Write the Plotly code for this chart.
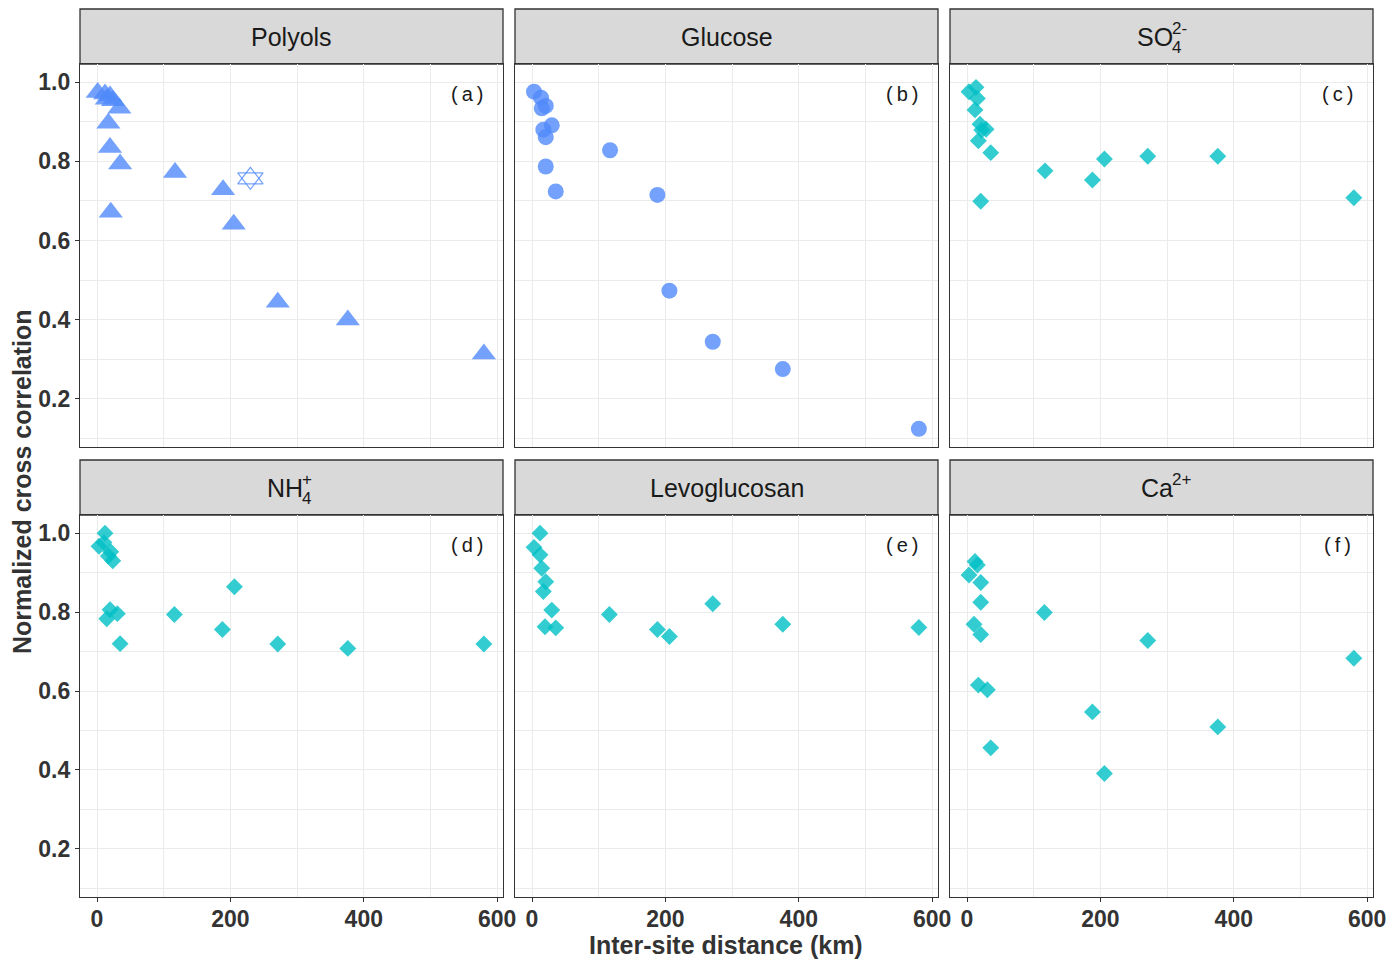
import plotly.graph_objects as go

# inter-site distance (km) and normalized cross correlation
polyols_x = [1, 12, 19.5, 14.6, 24, 33.5, 17, 19.5, 34.6, 117, 189, 20.6, 205, 271, 376, 580]
polyols_y = [0.974, 0.970, 0.965, 0.957, 0.953, 0.934, 0.896, 0.835, 0.793, 0.772, 0.728, 0.671, 0.641, 0.444, 0.399, 0.313]
polyols_star_x = [230]
polyols_star_y = [0.757]

glucose_x = [3, 13.5, 20.6, 14.6, 29.6, 17, 20.6, 117, 20.6, 35.6, 188, 206, 271, 376, 580]
glucose_y = [0.976, 0.961, 0.940, 0.934, 0.891, 0.880, 0.861, 0.828, 0.787, 0.724, 0.715, 0.473, 0.344, 0.275, 0.124]

so4_x = [3, 13.5, 15.5, 12, 19.5, 28.6, 22, 17, 35.6, 117, 188, 206, 271, 376, 580, 20.6]
so4_y = [0.976, 0.987, 0.959, 0.930, 0.894, 0.881, 0.879, 0.852, 0.822, 0.776, 0.753, 0.806, 0.813, 0.813, 0.708, 0.699]

nh4_x = [12, 3, 10.5, 20.6, 17, 23.6, 19.5, 30.5, 14.6, 34.6, 116, 188, 206, 271, 376, 580]
nh4_y = [1.0, 0.967, 0.976, 0.953, 0.942, 0.930, 0.806, 0.796, 0.783, 0.720, 0.794, 0.756, 0.864, 0.719, 0.708, 0.719]

levo_x = [12, 3, 12, 14.6, 20.6, 17, 29.6, 19.5, 35.6, 116, 188, 206, 271, 376, 580]
levo_y = [1.0, 0.964, 0.945, 0.911, 0.877, 0.852, 0.805, 0.763, 0.760, 0.794, 0.756, 0.738, 0.821, 0.769, 0.761]

ca_x = [12, 15.5, 3, 20.6, 20.6, 10.5, 20.6, 17, 30.5, 35.6, 116, 188, 206, 271, 376, 580]
ca_y = [0.928, 0.919, 0.894, 0.875, 0.825, 0.769, 0.743, 0.615, 0.603, 0.456, 0.799, 0.547, 0.391, 0.728, 0.509, 0.683]

x_ticks = [0, 200, 400, 600]
y_ticks = [0.2, 0.4, 0.6, 0.8, 1.0]
panel_tags = ["a", "b", "c", "d", "e", "f"]

BLUE = "rgba(80,137,250,0.8)"
TEAL = "rgba(0,191,196,0.8)"
FONT = "Arial, Liberation Sans, sans-serif"
# page body has an 8px margin; keep the figure inside the window so nothing overflows
OFF = 8
W, H = 1394 - 2 * OFF, 968 - 2 * OFF


def px(x):
    return (x - OFF) / W


def py(y):
    return 1 - (y - OFF) / H


# panel geometry in window pixels: (left, right) per column, (top, bottom, strip top) per row
cols = [(80, 503), (515, 938), (950, 1373)]
rows = [(64, 447, 9), (515, 897, 460)]

fig = go.Figure()

panels = [
    (polyols_x, polyols_y, "triangle-up", 21, BLUE),
    (glucose_x, glucose_y, "circle", 16, BLUE),
    (so4_x, so4_y, "diamond", 13, TEAL),
    (nh4_x, nh4_y, "diamond", 13, TEAL),
    (levo_x, levo_y, "diamond", 13, TEAL),
    (ca_x, ca_y, "diamond", 13, TEAL),
]

tick_font = dict(family=FONT, size=23, color="#333333", weight="bold")

layout = {}
shapes = []
annotations = []
for i, (xs, ys, sym, sz, col) in enumerate(panels):
    r, c = divmod(i, 3)
    n = "" if i == 0 else str(i + 1)
    fig.add_trace(go.Scatter(x=xs, y=ys, mode="markers", xaxis="x" + n, yaxis="y" + n,
                             marker=dict(symbol=sym, size=sz, color=col, line=dict(width=0)),
                             showlegend=False))
    left, right = cols[c]
    top, bottom, stop = rows[r]
    bottom_row = r == 1
    left_col = c == 0
    layout["xaxis" + n] = dict(
        domain=[px(left), px(right)], range=[-25.5, 608.7], anchor="y" + n, automargin=False,
        tickvals=x_ticks, showticklabels=bottom_row, ticks="outside" if bottom_row else "",
        ticklen=4, tickcolor="#333333", tickwidth=1.2, ticklabelstandoff=-3,
        ticklabeloverflow="allow", tickfont=tick_font,
        showgrid=True, gridcolor="#EBEBEB", gridwidth=1.3,
        minor=dict(dtick=100, showgrid=True, gridcolor="#EBEBEB", gridwidth=0.7),
        showline=True, mirror=True, linecolor="#333333", linewidth=1.3, zeroline=False)
    layout["yaxis" + n] = dict(
        domain=[py(bottom), py(top)], range=[0.078, 1.046], anchor="x" + n, automargin=False,
        tickvals=y_ticks, ticktext=["%.1f" % v for v in y_ticks],
        showticklabels=left_col, ticks="outside" if left_col else "",
        ticklen=4, tickcolor="#333333", tickwidth=1.2,
        ticklabeloverflow="allow", tickfont=tick_font,
        showgrid=True, gridcolor="#EBEBEB", gridwidth=1.3,
        minor=dict(dtick=0.1, showgrid=True, gridcolor="#EBEBEB", gridwidth=0.7),
        showline=True, mirror=True, linecolor="#333333", linewidth=1.3, zeroline=False)
    # strip header
    shapes.append(dict(type="rect", xref="paper", yref="paper",
                       x0=px(left), x1=px(right), y0=py(top), y1=py(stop),
                       fillcolor="#D9D9D9", line=dict(color="#333333", width=1.3), layer="below"))
    annotations.append(dict(xref="paper", yref="paper", x=px(right - 36), y=py(top + 30),
                            xanchor="center", yanchor="middle",
                            text="(\u2009" + panel_tags[i] + "\u2009)", showarrow=False,
                            font=dict(family=FONT, size=20, color="#1A1A1A")))

# the open star of Polyols
for sym in ["triangle-up-open", "triangle-down-open"]:
    fig.add_trace(go.Scatter(x=polyols_star_x, y=polyols_star_y, mode="markers",
                             marker=dict(symbol=sym, size=22, color=BLUE, line=dict(width=1.2, color=BLUE)),
                             showlegend=False))

# strip labels (with stacked sub/superscripts where needed)
strip_font = dict(family=FONT, size=25, color="#1A1A1A")
small_font = dict(family=FONT, size=17, color="#1A1A1A")
strips = [("Polyols", None, None), ("Glucose", None, None), ("SO", "4", "2-"),
          ("NH", "4", "+"), ("Levoglucosan", None, None), ("Ca", None, "2+")]
for i, (base, sub, sup) in enumerate(strips):
    r, c = divmod(i, 3)
    left, right = cols[c]
    top, bottom, stop = rows[r]
    cx = px((left + right) / 2)
    cy = py((top + stop) / 2)
    if sub is None and sup is None:
        annotations.append(dict(xref="paper", yref="paper", x=cx, y=cy, text=base,
                                xanchor="center", yanchor="middle",
                                showarrow=False, font=strip_font))
        continue
    annotations.append(dict(xref="paper", yref="paper", x=cx, y=cy, xanchor="right", yanchor="middle",
                            xshift=12, borderpad=0, text=base, showarrow=False, font=strip_font))
    if sub:
        annotations.append(dict(xref="paper", yref="paper", x=cx, y=cy, xanchor="left", yanchor="middle",
                                xshift=9, yshift=-11, borderpad=0, text=sub, showarrow=False, font=small_font))
    if sup:
        annotations.append(dict(xref="paper", yref="paper", x=cx, y=cy, xanchor="left", yanchor="middle",
                                xshift=9, yshift=8, borderpad=0, text=sup, showarrow=False, font=small_font))

# axis titles
annotations.append(dict(xref="paper", yref="paper", x=px(726), y=py(945),
                        xanchor="center", yanchor="middle",
                        text="<b>Inter-site distance (km)</b>", showarrow=False,
                        font=dict(family=FONT, size=25, color="#333333")))
annotations.append(dict(xref="paper", yref="paper", x=px(22), y=py(482), textangle=-90,
                        xanchor="center", yanchor="middle",
                        text="<b>Normalized cross correlation</b>", showarrow=False,
                        font=dict(family=FONT, size=25, color="#333333")))

fig.update_layout(width=W, height=H, margin=dict(l=0, r=0, t=0, b=0, autoexpand=False),
                  plot_bgcolor="white", paper_bgcolor="white",
                  shapes=shapes, annotations=annotations, **layout)

fig.write_html("out.html")
